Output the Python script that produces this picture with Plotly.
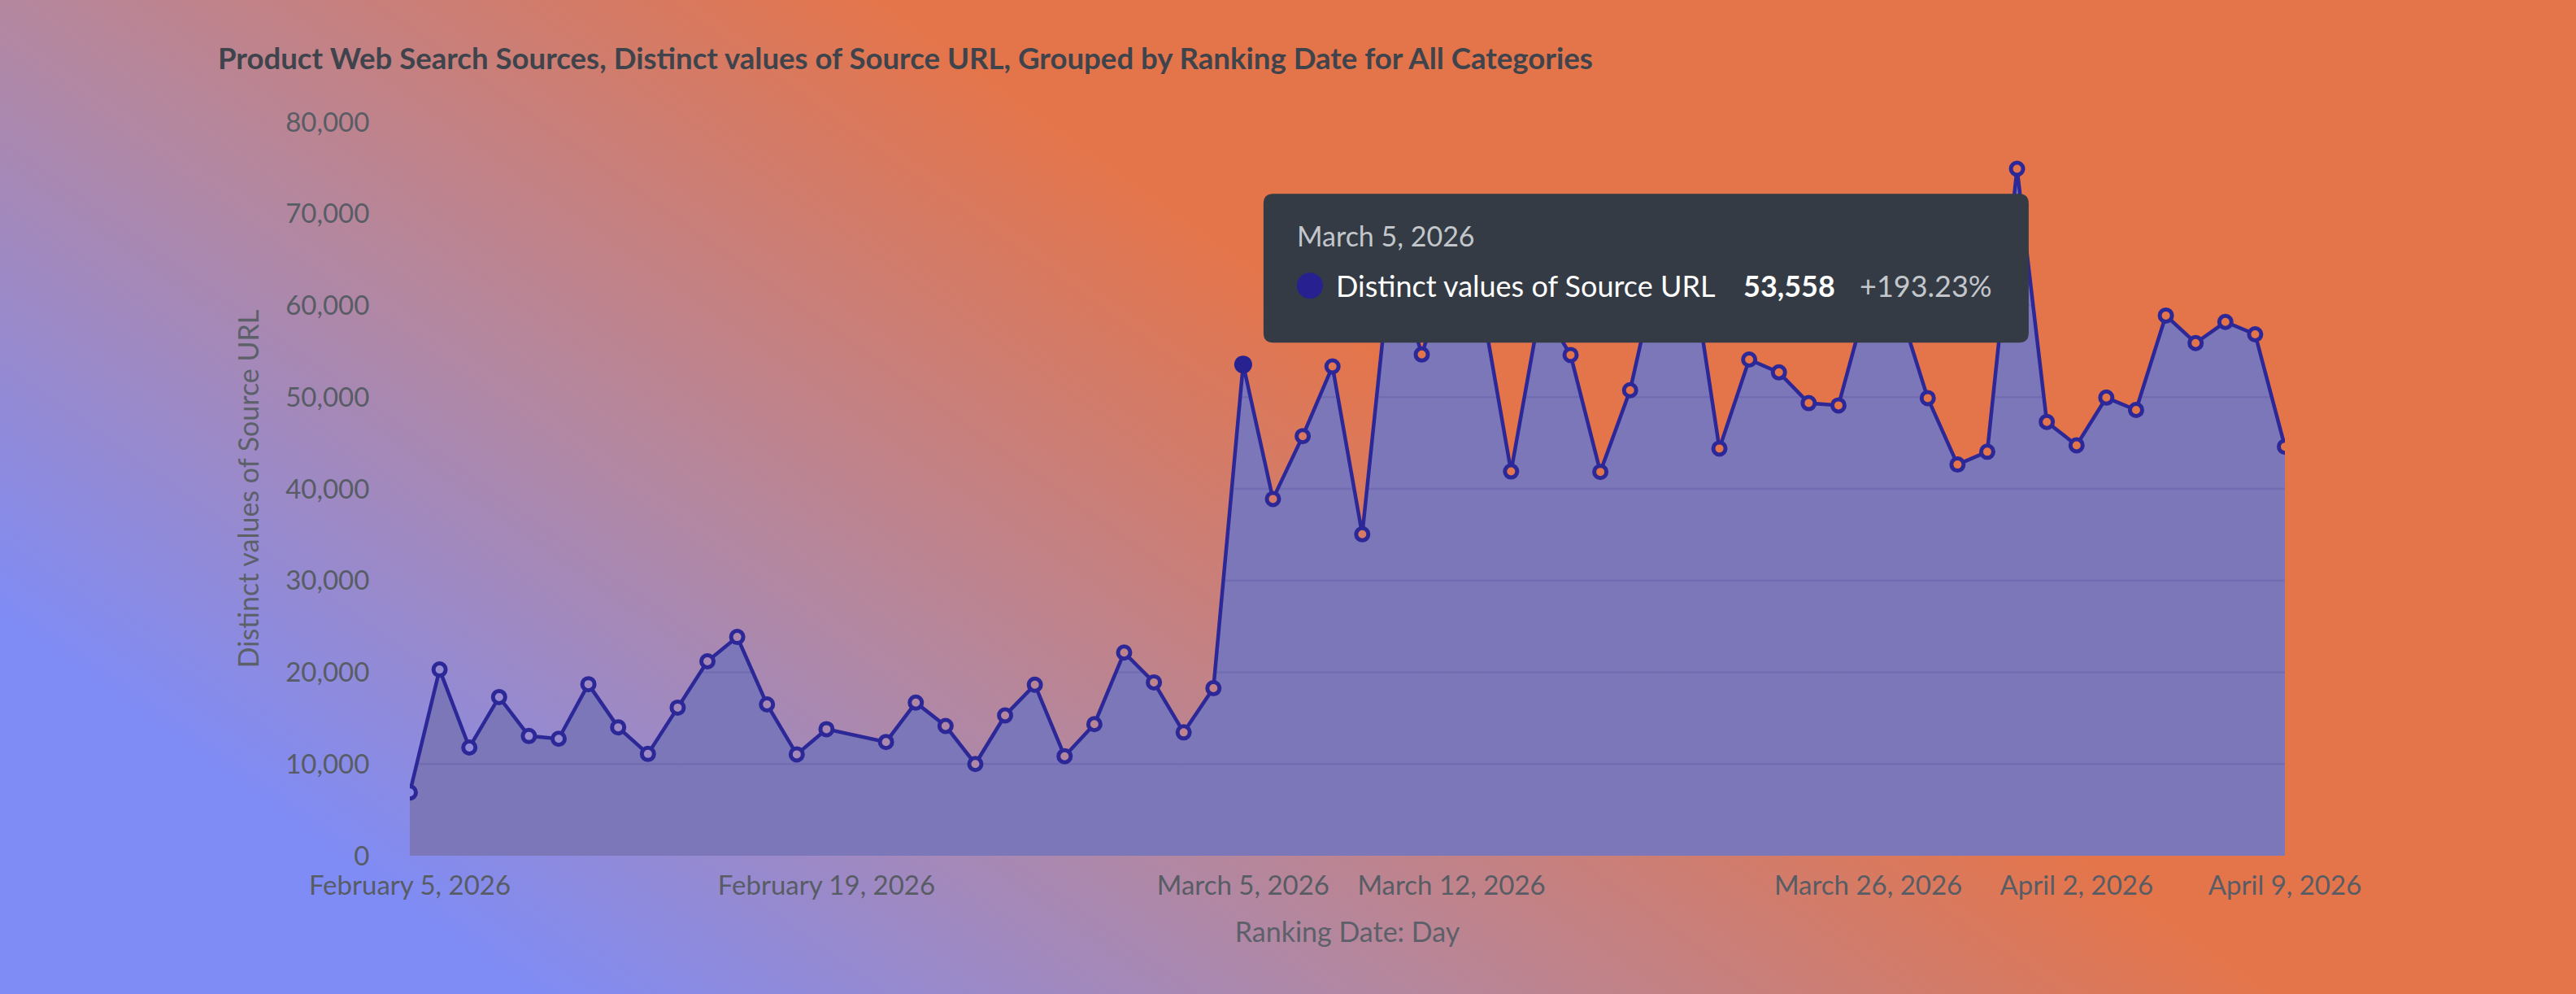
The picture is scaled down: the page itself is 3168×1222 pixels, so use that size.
import base64
import numpy as np
import pandas as pd
import plotly.graph_objects as go

chart_title = "Product Web Search Sources, Distinct values of Source URL, Grouped by Ranking Date for All Categories"
series_name = "Distinct values of Source URL"
x_title = "Ranking Date: Day"

# one row per ranking day; Feb 20 has no row in the data
dates = pd.date_range("2026-02-05", "2026-04-09").drop(pd.Timestamp("2026-02-20"))
source_urls = [
    6900, 20300, 11800, 17300, 13050, 12750, 18700, 14000, 11100, 16150,
    21200, 23850, 16500, 11050, 13800, 12400, 16700, 14150, 10000, 15300,
    18650, 10850, 14350, 22150, 18900, 13450, 18265, 53558, 38900, 45750,
    53350, 35050, 66000, 54650, 65000, 60500, 41900, 60000, 54600, 41850,
    50750, 65200, 65800, 44400, 54100, 52700, 49350, 49100, 61000, 60200,
    49900, 42650, 44050, 74900, 47300, 44750, 49950, 48600, 58900, 55900,
    58200, 56850, 44600,
]
x_tick_dates = ["2026-02-05", "2026-02-19", "2026-03-05", "2026-03-12",
                "2026-03-26", "2026-04-02", "2026-04-09"]
y_ticks = [0, 10000, 20000, 30000, 40000, 50000, 60000, 70000, 80000]
hover_date = "2026-03-05"

W, H = 3168, 1222
L, R, T, B = 504, 358, 150, 170
PW, PH = W - L - R, H - T - B
Y_MAX = 80000

LINE = "#2c2898"
FILL = "#7c77b9"
GRID = "#726db2"
TEXT = "#585c65"

# background: diagonal blue -> mauve -> orange
STOPS = [np.array([127, 140, 246]), np.array([180, 135, 159]), np.array([228, 117, 75])]
GX, GY, SPAN = 0.58, -0.814, 625


def bg_color(px, py):
    f = np.clip(((px * GX + py * GY) / SPAN + 1) / 2, 0, 1)
    a, b, k = (STOPS[0], STOPS[1], f * 2) if f < 0.5 else (STOPS[1], STOPS[2], f * 2 - 1)
    r, g, bl = (a + (b - a) * k).round().astype(int)
    return f"rgb({r},{g},{bl})"


svg = (
    f'<svg xmlns="http://www.w3.org/2000/svg" width="{W}" height="{H}" viewBox="0 0 {W} {H}">'
    f'<defs><linearGradient id="g" gradientUnits="userSpaceOnUse" '
    f'x1="{-SPAN * GX}" y1="{-SPAN * GY}" x2="{SPAN * GX}" y2="{SPAN * GY}">'
    '<stop offset="0" stop-color="#7f8cf6"/><stop offset="0.5" stop-color="#b4879f"/>'
    '<stop offset="1" stop-color="#e4754b"/></linearGradient></defs>'
    f'<rect width="{W}" height="{H}" fill="url(#g)"/></svg>'
)
bg_src = "data:image/svg+xml;base64," + base64.b64encode(svg.encode()).decode()

values = np.array(source_urls, dtype=float)
t_ns = dates.values.astype("int64")

# marker centres are hollow, so paint them with the background colour behind them
span_ns = t_ns[-1] - t_ns[0]
marker_fill = [bg_color(L + (t - t_ns[0]) / span_ns * PW, T + (1 - v / Y_MAX) * PH)
               for t, v in zip(t_ns, values)]


def grid_segments(level):
    # gridlines only show inside the filled area
    xs, ys = [], []
    for i in range(len(values) - 1):
        a, b = values[i], values[i + 1]
        if a < level and b < level:
            continue
        t0, t1 = t_ns[i], t_ns[i + 1]
        cross = t0 + (t1 - t0) * (level - a) / (b - a) if a != b else t0
        s0 = t0 if a >= level else cross
        s1 = t1 if b >= level else cross
        xs += [pd.Timestamp(int(s0)), pd.Timestamp(int(s1)), None]
        ys += [level, level, None]
    return xs, ys


fig = go.Figure()

fig.add_trace(go.Scatter(
    x=dates, y=values, mode="lines", fill="tozeroy",
    fillcolor=FILL, line=dict(width=0), hoverinfo="skip", showlegend=False,
))

for level in y_ticks[1:-1]:
    gx, gy = grid_segments(level)
    fig.add_trace(go.Scatter(
        x=gx, y=gy, mode="lines", line=dict(color=GRID, width=2.5),
        hoverinfo="skip", showlegend=False,
    ))

fig.add_trace(go.Scatter(
    x=dates, y=values, mode="lines+markers", name=series_name,
    line=dict(color=LINE, width=4.5),
    marker=dict(size=15, color=marker_fill, line=dict(color=LINE, width=5)),
    showlegend=False,
))

hover_i = list(dates).index(pd.Timestamp(hover_date))
hover_val = source_urls[hover_i]
hover_change = (source_urls[hover_i] / source_urls[hover_i - 1] - 1) * 100

fig.add_trace(go.Scatter(
    x=[dates[hover_i]], y=[hover_val], mode="markers",
    marker=dict(size=22, color="#282290"), hoverinfo="skip", showlegend=False,
))

# tooltip, placed relative to the hovered point
tip = dict(xref="x", yref="y", xsizemode="pixel", ysizemode="pixel",
           xanchor=hover_date, yanchor=hover_val)
fig.add_shape(
    type="path", layer="above", fillcolor="#343b44", line=dict(width=0),
    path="M 37,210 L 954,210 Q 966,210 966,198 L 966,39 Q 966,27 954,27 "
         "L 37,27 Q 25,27 25,39 L 25,198 Q 25,210 37,210 Z",
    **tip,
)
fig.add_shape(type="circle", layer="above", fillcolor="#262090", line=dict(width=0),
              x0=66, x1=98, y0=81, y1=113, **tip)


def tip_label(text, dx, dy, size, color, weight=400):
    fig.add_annotation(
        x=hover_date, y=hover_val, xref="x", yref="y", text=text,
        showarrow=False, xanchor="left", yanchor="middle", xshift=dx, yshift=dy,
        font=dict(family="Lato", size=size, color=color, weight=weight),
    )


tip_label(pd.Timestamp(hover_date).strftime("%B %-d, %Y"), 64, 159, 34, "#c3c7cc")
tip_label(series_name, 112, 97, 36, "#ffffff")
tip_label(f"{hover_val:,}", 613, 97, 36, "#ffffff", 700)
tip_label(f"+{hover_change:.2f}%", 756, 97, 36, "#c3c7cc")

fig.add_layout_image(
    source=bg_src, xref="paper", yref="paper",
    x=-L / PW, y=1 + T / PH, sizex=W / PW, sizey=H / PH,
    xanchor="left", yanchor="top", sizing="stretch", layer="below",
)

fig.update_layout(
    width=W, height=H,
    margin=dict(l=L, r=R, t=T, b=B, autoexpand=False),
    paper_bgcolor="#e4754b", plot_bgcolor="rgba(0,0,0,0)",
    font=dict(family="Lato", color=TEXT),
    title=dict(
        text=chart_title, xref="container", yref="container",
        x=268 / W, xanchor="left", y=1 - 72 / H, yanchor="middle",
        font=dict(family="Lato", size=36.6, color="#3f444c", weight=700),
    ),
    xaxis=dict(
        type="date", range=[dates[0], dates[-1]],
        tickvals=x_tick_dates, tickformat="%B %-d, %Y",
        tickfont=dict(size=33, color=TEXT),
        ticks="outside", ticklen=7, tickcolor="rgba(0,0,0,0)",
        showgrid=False, zeroline=False, showline=False,
        title=dict(text=x_title, font=dict(size=34, color="#5c6069"), standoff=28),
    ),
    yaxis=dict(
        range=[0, Y_MAX], tickvals=y_ticks, tickformat=",",
        tickfont=dict(size=33, color=TEXT),
        ticks="outside", ticklen=42, tickcolor="rgba(0,0,0,0)",
        showgrid=False, zeroline=False, showline=False,
        title=dict(text=series_name, font=dict(size=34, color="#5c6069"), standoff=22),
    ),
    showlegend=False,
    hovermode=False,
)

fig.write_html(
    "out.html",
    config={"displayModeBar": False},
    post_script="document.body.style.margin='0';",
)
